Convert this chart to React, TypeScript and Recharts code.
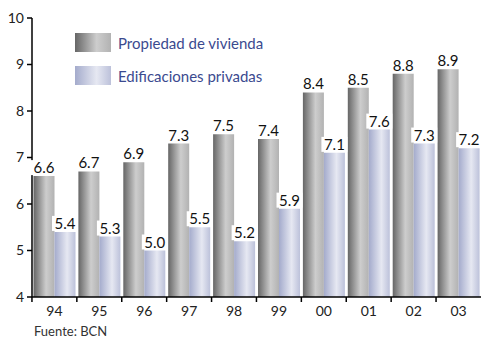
import { BarChart, Bar, XAxis, YAxis, LabelList } from 'recharts'

const years = ['94', '95', '96', '97', '98', '99', '00', '01', '02', '03']
const propiedad = [6.6, 6.7, 6.9, 7.3, 7.5, 7.4, 8.4, 8.5, 8.8, 8.9]
const edificaciones = [5.4, 5.3, 5.0, 5.5, 5.2, 5.9, 7.1, 7.6, 7.3, 7.2]
const yTicks = [4, 5, 6, 7, 8, 9, 10]

const data = years.map((year, i) => ({
  year,
  propiedad: propiedad[i],
  edificaciones: edificaciones[i],
}))

const FONT = 'Lato, "DejaVu Sans", sans-serif'
const BAND = 45

function YearTick(props: any) {
  const { x, y, payload } = props
  return (
    <g>
      <line x1={x - BAND / 2} y1={y} x2={x - BAND / 2} y2={y + 5} stroke="#000" strokeWidth={1.5} />
      <text x={x} y={y + 19} textAnchor="middle" fontSize={14} fill="#222" fontFamily={FONT}>
        {payload.value}
      </text>
    </g>
  )
}

function ValueLabel(props: any) {
  const { x, y, width, value } = props
  const cx = x + width / 2
  return (
    <g>
      <rect x={cx - 13} y={y - 16} width={26} height={15} fill="#fff" />
      <text x={cx} y={y - 3} textAnchor="middle" fontSize={15} fill="#111" fontFamily={FONT}>
        {Number(value).toFixed(1)}
      </text>
    </g>
  )
}

function Swatch({ bg }: { bg: string }) {
  return <div style={{ width: 36, height: 19, background: bg }} />
}

export default function App() {
  return (
    <div style={{ position: 'fixed', left: 0, top: 0, width: 481, height: 339, background: '#fff' }}>
      <BarChart
        width={481}
        height={339}
        data={data}
        margin={{ top: 18, right: 0, left: 0, bottom: 22 }}
        barCategoryGap={1.5}
        barGap={0}
      >
        <defs>
          <linearGradient id="gGrey" x1="0" y1="0" x2="1" y2="0">
            <stop offset="0%" stopColor="#666666" />
            <stop offset="60%" stopColor="#cdcdcd" />
            <stop offset="100%" stopColor="#b2b2b2" />
          </linearGradient>
          <linearGradient id="gBlue" x1="0" y1="0" x2="1" y2="0">
            <stop offset="0%" stopColor="#a4abcc" />
            <stop offset="60%" stopColor="#e6e8f2" />
            <stop offset="100%" stopColor="#bcc1da" />
          </linearGradient>
        </defs>
        <XAxis
          dataKey="year"
          height={20}
          tickSize={0}
          tickMargin={0}
          axisLine={{ stroke: '#000', strokeWidth: 1.5 }}
          tick={<YearTick />}
          interval={0}
        />
        <YAxis
          width={32}
          domain={[4, 10]}
          ticks={yTicks}
          tickSize={5}
          tickMargin={3}
          axisLine={{ stroke: '#000', strokeWidth: 1.5 }}
          tickLine={{ stroke: '#000', strokeWidth: 1.5 }}
          tick={{ fontSize: 14, fill: '#222', fontFamily: FONT }}
        />
        <Bar dataKey="propiedad" fill="url(#gGrey)" isAnimationActive={false}>
          <LabelList dataKey="propiedad" content={<ValueLabel />} />
        </Bar>
        <Bar dataKey="edificaciones" fill="url(#gBlue)" isAnimationActive={false}>
          <LabelList dataKey="edificaciones" content={<ValueLabel />} />
        </Bar>
      </BarChart>

      <div style={{ position: 'absolute', left: 75, top: 33, fontFamily: FONT, fontSize: 15, color: '#3b4a8f' }}>
        <div style={{ display: 'flex', alignItems: 'center', gap: 7, height: 19 }}>
          <Swatch bg="linear-gradient(to right, #666666, #cdcdcd 60%, #b2b2b2)" />
          <span>Propiedad de vivienda</span>
        </div>
        <div style={{ display: 'flex', alignItems: 'center', gap: 7, height: 19, marginTop: 14 }}>
          <Swatch bg="linear-gradient(to right, #a4abcc, #e6e8f2 60%, #bcc1da)" />
          <span>Edificaciones privadas</span>
        </div>
      </div>

      <div style={{ position: 'absolute', left: 34, top: 323, fontFamily: FONT, fontSize: 13, color: '#333' }}>
        Fuente: BCN
      </div>
    </div>
  )
}
